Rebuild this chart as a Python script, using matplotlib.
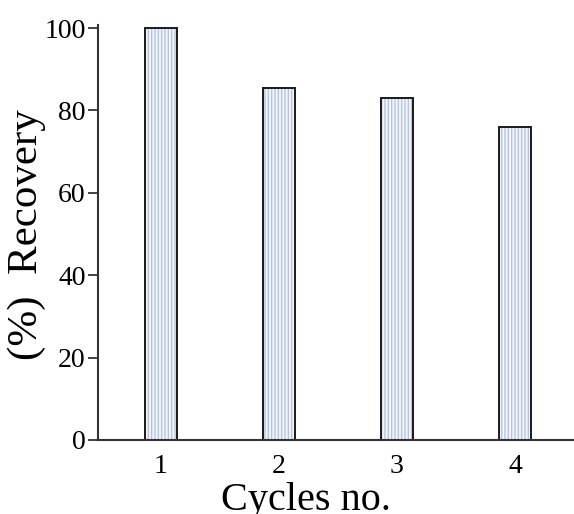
import matplotlib.pyplot as plt

cycles = [1, 2, 3, 4]
recovery = [100, 85.5, 83, 76]
yticks = [0, 20, 40, 60, 80, 100]

plt.rcParams['font.family'] = ['Liberation Serif', 'DejaVu Serif']
plt.rcParams['hatch.linewidth'] = 1.0
plt.rcParams['hatch.color'] = '#b3c4e0'

fig = plt.figure(figsize=(5.74, 5.14), dpi=100)
ax = fig.add_axes([0.171, 0.144, 0.829, 0.807])

# hatched fill, then black outline on top
ax.bar(cycles, recovery, width=0.27, color='#f4f6fb', edgecolor='#b3c4e0',
       hatch='|||||', linewidth=0)
ax.bar(cycles, recovery, width=0.27, fill=False, edgecolor='#1a1a1a', linewidth=1.4)

ax.set_xlim(0.47, 4.5)
ax.set_ylim(0, 100.7)
ax.set_yticks(yticks)
ax.set_xticks(cycles)

ax.spines['top'].set_visible(False)
ax.spines['right'].set_visible(False)
for s in ['left', 'bottom']:
    ax.spines[s].set_linewidth(1.5)
    ax.spines[s].set_color('#333333')

ax.tick_params(axis='y', direction='out', length=7, width=1.3, color='#333333',
               labelsize=20, pad=2)
ax.tick_params(axis='x', length=0, labelsize=20, pad=10)

ax.set_xlabel('Cycles no.', fontsize=29)
ax.set_ylabel('(%)  Recovery', fontsize=31)
ax.xaxis.set_label_coords(0.437, -0.102)
ax.yaxis.set_label_coords(-0.11, 0.494)

fig.savefig('out.png', dpi=100)
